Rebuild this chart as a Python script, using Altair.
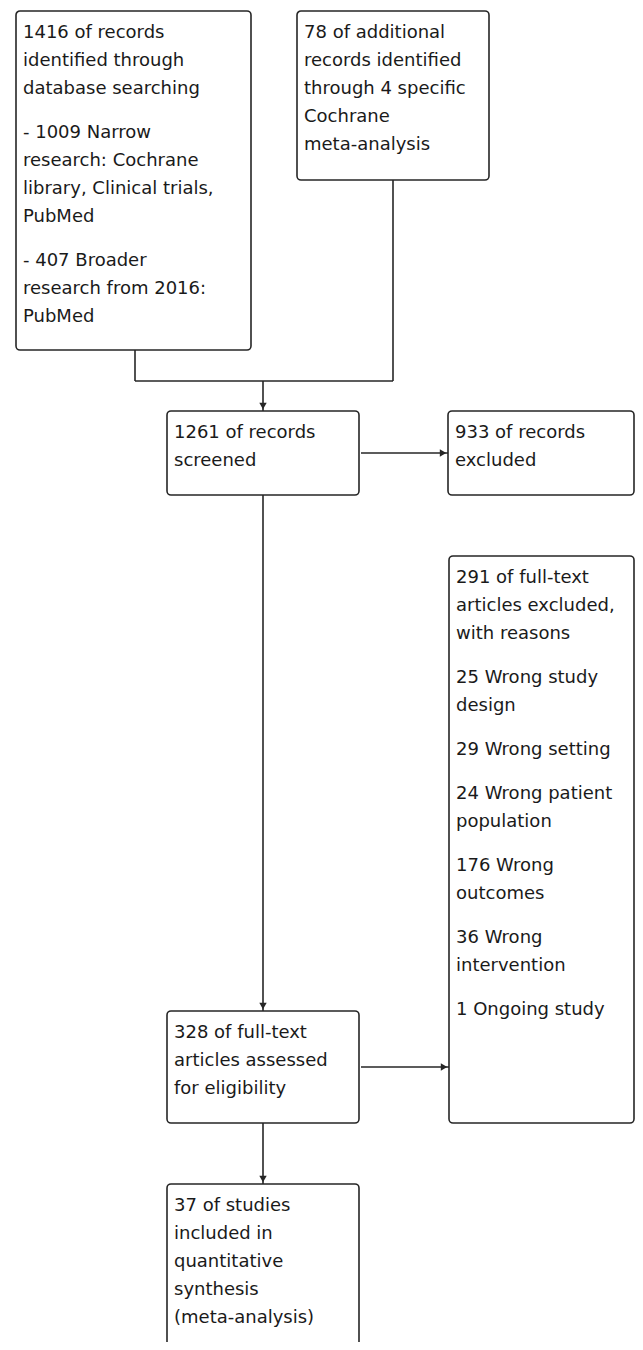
import altair as alt
import pandas as pd

# ---- box contents (paragraphs -> lines) ----
box_ids = ["A", "B", "C", "D", "E", "F", "G"]
box_text = {
    "A": [["1416 of records", "identified through", "database searching"],
          ["- 1009 Narrow", "research: Cochrane", "library, Clinical trials,", "PubMed"],
          ["- 407 Broader", "research from 2016:", "PubMed"]],
    "B": [["78 of additional", "records identified", "through 4 specific", "Cochrane", "meta-analysis"]],
    "C": [["1261 of records", "screened"]],
    "D": [["933 of records", "excluded"]],
    "E": [["328 of full-text", "articles assessed", "for eligibility"]],
    "F": [["291 of full-text", "articles excluded,", "with reasons"],
          ["25 Wrong study", "design"],
          ["29 Wrong setting"],
          ["24 Wrong patient", "population"],
          ["176 Wrong", "outcomes"],
          ["36 Wrong", "intervention"],
          ["1 Ongoing study"]],
    "G": [["37 of studies", "included in", "quantitative", "synthesis", "(meta-analysis)"]],
}

# ---- layout grid (diagram units) ----
box_left = {"A": 16, "B": 297, "C": 167, "D": 448, "E": 167, "F": 449, "G": 167}
box_right = {"A": 251, "B": 489, "C": 359, "D": 634, "E": 359, "F": 634, "G": 359}
box_top = {"A": 11, "B": 11, "C": 411, "D": 411, "E": 1011, "F": 556, "G": 1184}
box_bottom = {"A": 350, "B": 180, "C": 495, "D": 495, "E": 1123, "F": 1123, "G": 1356}

seg_x1 = [135, 393, 135, 263, 361, 263, 361, 263]
seg_y1 = [350, 180, 381, 381, 453, 495, 1067, 1123]
seg_x2 = [135, 393, 393, 263, 448, 263, 449, 263]
seg_y2 = [381, 381, 381, 411, 453, 1011, 1067, 1184]

head_x = [263, 443, 263, 444, 263]
head_y = [406, 453, 1006, 1067, 1179]
head_shape = ["triangle-down", "triangle-right", "triangle-down", "triangle-right", "triangle-down"]

LINE_H = 28
PARA_GAP = 16
FIRST = 22
PAD = 7

boxes = pd.DataFrame({
    "id": box_ids,
    "x1": [box_left[b] for b in box_ids],
    "x2": [box_right[b] for b in box_ids],
    "y1": [box_top[b] for b in box_ids],
    "y2": [box_bottom[b] for b in box_ids],
})

rows = []
for b in box_ids:
    y = box_top[b] + FIRST
    for pi, para in enumerate(box_text[b]):
        if pi > 0:
            y += PARA_GAP
        for li, line in enumerate(para):
            rows.append({"box": b, "text": line, "x": box_left[b] + PAD, "y": y})
            y += LINE_H
texts = pd.DataFrame(rows)

segs = pd.DataFrame({"x1": seg_x1, "y1": seg_y1, "x2": seg_x2, "y2": seg_y2})
heads = pd.DataFrame({"x": head_x, "y": head_y, "shape": head_shape})

W, H = 627, 1334
xs = alt.Scale(domain=[8, 8 + W], nice=False, zero=False)
ys = alt.Scale(domain=[8, 8 + H], nice=False, zero=False, reverse=True)
LINE = "#262626"

rects = alt.Chart(boxes).mark_rect(
    fill="white", stroke=LINE, strokeWidth=1.6, cornerRadius=4
).encode(
    x=alt.X("x1:Q", scale=xs, axis=None), x2="x2:Q",
    y=alt.Y("y1:Q", scale=ys, axis=None), y2="y2:Q",
)

rules = alt.Chart(segs).mark_rule(color=LINE, strokeWidth=1.6).encode(
    x=alt.X("x1:Q", scale=xs, axis=None), x2="x2:Q",
    y=alt.Y("y1:Q", scale=ys, axis=None), y2="y2:Q",
)

arrows = alt.Chart(heads).mark_point(
    filled=True, color=LINE, size=55, opacity=1
).encode(
    x=alt.X("x:Q", scale=xs, axis=None),
    y=alt.Y("y:Q", scale=ys, axis=None),
    shape=alt.Shape("shape:N", scale=None, legend=None),
)

labels = alt.Chart(texts).mark_text(
    align="left", baseline="middle", font="DejaVu Sans", fontSize=18, color="#1a1a1a"
).encode(
    x=alt.X("x:Q", scale=xs, axis=None),
    y=alt.Y("y:Q", scale=ys, axis=None),
    text="text:N",
)

chart = alt.layer(rules, rects, arrows, labels).properties(
    width=W, height=H, padding=0, autosize=alt.AutoSizeParams(type="none")
).configure(
    background="white", view=alt.ViewConfig(stroke=None)
)

chart.save("out.html", embed_options={"renderer": "svg", "actions": False})
